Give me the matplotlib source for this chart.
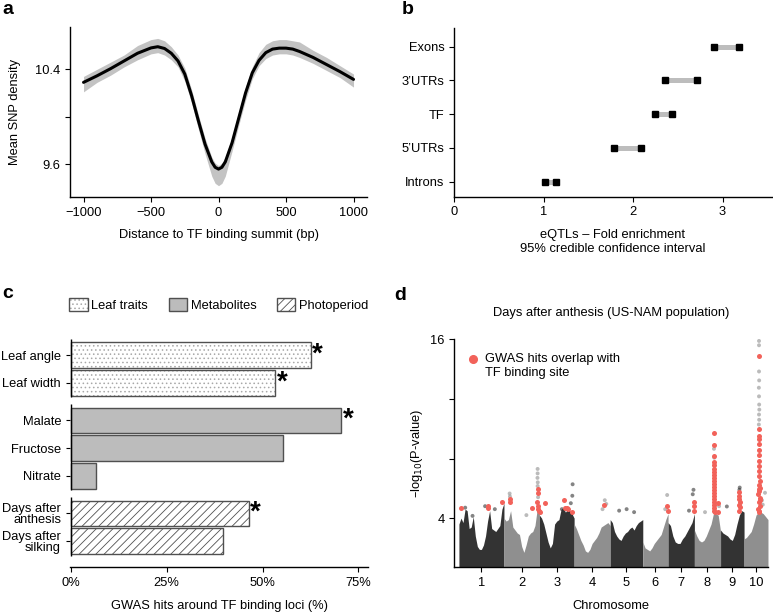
import numpy as np
import matplotlib.pyplot as plt
from matplotlib.patches import Patch

plt.rcParams['font.family'] = ['Liberation Sans', 'DejaVu Sans']
plt.rcParams['font.size'] = 9.3
plt.rcParams['hatch.linewidth'] = 0.6
plt.rcParams['axes.linewidth'] = 1.0

# ---------------- panel a: SNP density around TF summits
dist_bp = [-1000, -900, -800, -700, -600, -500, -450, -400, -350, -300, -250, -200,
           -150, -100, -50, -25, 0, 25, 50, 100, 150, 200, 250, 300, 350, 400,
           450, 500, 550, 600, 700, 800, 900, 1000]
snp_smooth = [10.29, 10.345, 10.405, 10.47, 10.535, 10.58, 10.59, 10.575, 10.535, 10.47,
              10.36, 10.18, 9.97, 9.77, 9.62, 9.575, 9.56, 9.575, 9.62, 9.78, 9.99,
              10.20, 10.37, 10.475, 10.54, 10.57, 10.578, 10.578, 10.57, 10.55, 10.50,
              10.44, 10.38, 10.315]
snp_raw_hi = [10.34, 10.40, 10.46, 10.52, 10.60, 10.65, 10.66, 10.64, 10.59, 10.52,
              10.41, 10.23, 10.02, 9.82, 9.66, 9.61, 9.59, 9.61, 9.66, 9.83, 10.04,
              10.25, 10.42, 10.54, 10.61, 10.64, 10.65, 10.65, 10.64, 10.63, 10.56,
              10.50, 10.43, 10.36]
snp_raw_lo = [10.21, 10.29, 10.35, 10.42, 10.48, 10.53, 10.54, 10.52, 10.48, 10.42,
              10.30, 10.12, 9.90, 9.69, 9.50, 9.44, 9.42, 9.44, 9.50, 9.71, 9.93,
              10.14, 10.32, 10.43, 10.49, 10.52, 10.53, 10.53, 10.52, 10.50, 10.45,
              10.39, 10.33, 10.25]

# ---------------- panel b: eQTL enrichment intervals
region_names = ['Introns', '5\u2019UTRs', 'TF', '3\u2019UTRs', 'Exons']
ci_low = [1.01, 1.79, 2.25, 2.36, 2.90]
ci_high = [1.14, 2.09, 2.44, 2.71, 3.19]

# ---------------- panel c: GWAS hits around TF loci
trait_names = ['Leaf angle', 'Leaf width', 'Malate', 'Fructose', 'Nitrate',
               'Days after\nanthesis', 'Days after\nsilking']
trait_group = ['Leaf traits', 'Leaf traits', 'Metabolites', 'Metabolites',
               'Metabolites', 'Photoperiod', 'Photoperiod']
gwas_pct = [62.6, 53.3, 70.5, 55.3, 6.7, 46.4, 39.8]
significant = [True, True, True, False, False, True, False]

# ---------------- panel d: Manhattan plot, days after anthesis
chrom_len_mb = [301, 237, 232, 241, 218, 169, 176, 175, 157, 160]
# top of the dense cloud of SNPs, evenly spaced along each chromosome
mass_top = [
    [3.6, 4.0, 3.7, 4.6, 4.5, 3.3, 3.4, 4.1, 2.8, 2.1, 1.9, 1.9, 2.2, 2.8, 3.8, 4.5,
     3.3, 3.2, 3.1, 3.3, 3.5, 4.6, 5.0],
    [4.0, 3.8, 3.9, 4.5, 3.4, 3.2, 3.0, 2.9, 2.1, 1.7, 2.2, 2.8, 3.0, 3.1, 3.5, 4.6, 4.8],
    [4.2, 4.0, 3.6, 3.0, 2.4, 2.0, 2.3, 3.6, 3.8, 3.9, 4.6, 4.7, 4.4, 4.6, 4.5, 4.3, 4.0],
    [3.6, 3.3, 2.9, 2.5, 2.2, 1.8, 1.7, 1.9, 2.3, 2.5, 2.7, 3.0, 3.4, 3.5, 3.6, 3.7, 3.5],
    [3.9, 3.7, 3.1, 2.8, 2.6, 2.5, 2.8, 3.0, 3.1, 3.3, 3.4, 3.2, 3.5, 3.7, 3.8, 3.9],
    [2.4, 2.0, 1.9, 1.8, 2.0, 2.3, 2.5, 2.7, 2.9, 3.4, 3.9, 4.3],
    [3.7, 3.5, 2.8, 2.4, 2.3, 2.3, 2.6, 2.8, 3.1, 3.4, 3.7, 4.3],
    [3.2, 2.8, 2.5, 2.4, 2.5, 2.8, 3.2, 3.6, 4.3, 4.3, 4.2, 3.1],
    [3.2, 3.0, 2.9, 2.8, 2.6, 2.5, 2.9, 3.6, 4.2, 4.5, 4.4],
    [2.6, 2.7, 2.9, 3.1, 3.6, 4.2, 4.4, 4.4, 4.3, 4.1, 3.9],
]
# (chromosome, position Mb, -log10 P) of SNPs standing out of the cloud
other_snps = [
    (1, 42, 4.7), (1, 91, 4.15), (1, 175, 4.8), (1, 240, 4.6),
    (2, 38, 5.65), (2, 40, 5.45), (2, 150, 4.2), (2, 225, 7.3), (2, 225, 7.0),
    (2, 224, 6.7), (2, 226, 6.4), (2, 225, 6.15), (2, 228, 5.4),
    (3, 222, 6.27), (3, 220, 5.5), (3, 210, 5.0), (3, 150, 4.6),
    (4, 205, 5.2), (4, 215, 4.95), (4, 190, 4.6),
    (5, 60, 4.5), (5, 110, 4.6), (5, 160, 4.4),
    (6, 163, 5.55), (6, 150, 4.6),
    (7, 170, 5.9), (7, 165, 5.6), (7, 140, 4.5),
    (8, 71, 4.4), (8, 131, 8.65), (8, 133, 8.05), (8, 165, 4.8),
    (9, 42, 4.78), (9, 128, 6.05), (9, 126, 5.9),
    (10, 100, 15.89), (10, 100, 15.6), (10, 100, 13.84), (10, 101, 13.24),
    (10, 99, 12.75), (10, 100, 12.17), (10, 101, 11.62), (10, 102, 11.28),
    (10, 100, 10.95), (10, 101, 10.6), (10, 99, 10.28), (10, 140, 5.7),
    (10, 120, 5.2), (10, 125, 4.9),
]
# GWAS hits overlapping a TF binding site
tf_hits = [
    (1, 13, 4.71), (1, 192, 4.82), (1, 192, 4.65), (1, 285, 5.05),
    (2, 38, 5.31), (2, 42, 5.05), (2, 188, 4.65), (2, 225, 5.94), (2, 225, 5.67),
    (2, 221, 5.05), (2, 227, 4.78), (2, 236, 4.49), (2, 230, 4.6),
    (3, 37, 5.0), (3, 6, 4.42), (3, 166, 5.2), (3, 172, 4.65), (3, 183, 4.71),
    (3, 194, 4.62), (3, 217, 4.42),
    (4, 199, 4.89),
    (6, 161, 4.78), (6, 168, 4.49),
    (7, 172, 5.09), (7, 172, 4.82), (7, 173, 4.49),
    (8, 131, 9.68), (8, 130, 8.88), (8, 132, 8.2), (8, 131, 7.75), (8, 133, 7.55),
    (8, 130, 7.3), (8, 132, 7.1), (8, 129, 6.9), (8, 133, 6.7), (8, 131, 6.5),
    (8, 128, 6.3), (8, 134, 6.1), (8, 130, 5.9), (8, 132, 5.7), (8, 129, 5.5),
    (8, 134, 5.3), (8, 131, 5.1), (8, 128, 4.9), (8, 133, 4.7), (8, 130, 4.5),
    (8, 135, 4.4), (8, 160, 5.0), (8, 160, 4.4),
    (9, 124, 5.74), (9, 126, 5.5), (9, 123, 5.28), (9, 127, 5.06), (9, 124, 4.88),
    (9, 128, 4.72), (9, 125, 4.5),
    (10, 100, 14.89), (10, 101, 9.99), (10, 99, 9.54), (10, 100, 9.28),
    (10, 102, 8.94), (10, 98, 8.56), (10, 101, 8.21), (10, 99, 7.83),
    (10, 103, 7.5), (10, 97, 7.16), (10, 101, 6.83), (10, 104, 6.5),
    (10, 98, 6.2), (10, 102, 5.94), (10, 96, 5.6), (10, 104, 5.38),
    (10, 99, 5.09), (10, 106, 4.82), (10, 95, 4.6), (10, 102, 4.38),
    (10, 107, 5.2), (10, 97, 5.8), (10, 105, 6.0), (10, 100, 4.5),
]

dark, light, red = '#333333', '#8f8f8f', '#f2625a'
bar_edge = '#505050'

fig = plt.figure(figsize=(7.73, 6.15), dpi=100)

# ================= a
ax = fig.add_axes([0.0906, 0.6797, 0.3842, 0.2764])
ax.fill_between(dist_bp, snp_raw_lo, snp_raw_hi, color='#c3c3c3', lw=0)
ax.plot(dist_bp, snp_smooth, color='black', lw=2.2, solid_capstyle='round')
ax.set_xlim(-1100, 1100)
ax.set_ylim(9.325, 10.756)
ax.set_xticks([-1000, -500, 0, 500, 1000])
ax.set_yticks([9.6, 10.0, 10.4])
ax.set_yticklabels(['9.6', '', '10.4'])
ax.set_xlabel('Distance to TF binding summit (bp)', labelpad=7.5)
ax.set_ylabel('Mean SNP density', labelpad=10)
for s in ['top', 'right']:
    ax.spines[s].set_visible(False)

# ================= b
ax = fig.add_axes([0.5877, 0.6802, 0.4106, 0.2738])
ypos = np.arange(len(region_names))
ax.hlines(ypos, ci_low, ci_high, color='#bdbdbd', lw=3.6)
ax.plot(ci_low, ypos, 's', color='black', ms=4.8)
ax.plot(ci_high, ypos, 's', color='black', ms=4.8)
ax.set_xlim(0, 3.55)
ax.set_ylim(-0.45, 4.55)
ax.set_yticks(ypos)
ax.set_yticklabels(region_names)
ax.set_xticks([0, 1, 2, 3])
ax.set_xlabel('eQTLs \u2013 Fold enrichment\n95% credible confidence interval', labelpad=7.5)
for s in ['top', 'right']:
    ax.spines[s].set_visible(False)

# ================= c
ax = fig.add_axes([0.0906, 0.0776, 0.3859, 0.3696])
ycen = []
y = 0.0
for i, g in enumerate(trait_group):
    if i > 0:
        y += 1.0 + (0.33 if g != trait_group[i - 1] else 0.0)
    ycen.append(y)
for yc, v, g, sig in zip(ycen, gwas_pct, trait_group, significant):
    if g == 'Leaf traits':
        ax.barh(yc, v, height=0.9, color='white', edgecolor='#a8a8a8', hatch='....', lw=0)
        ax.barh(yc, v, height=0.9, color='none', edgecolor=bar_edge, lw=1.0)
    elif g == 'Photoperiod':
        ax.barh(yc, v, height=0.9, color='white', edgecolor=bar_edge, hatch='////', lw=1.0)
    else:
        ax.barh(yc, v, height=0.9, color='#bcbcbc', edgecolor=bar_edge, lw=1.0)
    if sig:
        ax.text(v + 0.4, yc, '*', fontsize=20, fontweight='bold', ha='left', va='center')
ax.set_ylim(ycen[-1] + 0.94, ycen[0] - 0.54)
ax.set_xlim(-0.2, 77.6)
ax.set_yticks(ycen)
ax.set_yticklabels(trait_names)
for lab in ax.get_yticklabels():
    lab.set_linespacing(0.95)
ax.tick_params(axis='y', length=3)
ax.set_xticks([0, 25, 50, 75])
ax.set_xticklabels(['0%', '25%', '50%', '75%'])
ax.set_xlabel('GWAS hits around TF binding loci (%)', labelpad=8)
for s in ['top', 'right', 'left']:
    ax.spines[s].set_visible(False)
groups = list(dict.fromkeys(trait_group))
for g in groups:
    ys = [yc for yc, gg in zip(ycen, trait_group) if gg == g]
    ax.plot([0, 0], [ys[0] - 0.58, ys[-1] + 0.52], color='black', lw=1.0,
            clip_on=False, solid_capstyle='butt')
handles = [
    (Patch(facecolor='white', edgecolor='#a8a8a8', hatch='....', lw=0),
     Patch(facecolor='none', edgecolor=bar_edge, lw=1.0)),
    Patch(facecolor='#bcbcbc', edgecolor=bar_edge, lw=1.0),
    Patch(facecolor='white', edgecolor=bar_edge, hatch='////', lw=1.0),
]
ax.legend(handles, groups, loc='center left', bbox_to_anchor=(-0.002, 1.154),
          ncol=3, frameon=False, handlelength=1.4, handleheight=1.15,
          handletextpad=0.3, columnspacing=1.6, borderaxespad=0, borderpad=0)

# ================= d
ax = fig.add_axes([0.5877, 0.0776, 0.4062, 0.3707])
starts = np.concatenate([[0], np.cumsum(chrom_len_mb)[:-1]])
chrom_col = [dark if i % 2 == 0 else light for i in range(len(chrom_len_mb))]
for i, (L, tops) in enumerate(zip(chrom_len_mb, mass_top)):
    xs = starts[i] + np.linspace(0, L, len(tops))
    ax.fill_between(xs, 0, tops, color=chrom_col[i], lw=0)
ox = [starts[c - 1] + p for c, p, v in other_snps]
oy = [v for c, p, v in other_snps]
oc = [chrom_col[c - 1] for c, p, v in other_snps]
ax.scatter(ox, oy, s=8, c=oc, alpha=0.6, lw=0)
hx = [starts[c - 1] + p for c, p, v in tf_hits]
hy = [v for c, p, v in tf_hits]
ax.scatter(hx, hy, s=13, color=red, lw=0, zorder=3)
ax.set_xlim(-31, sum(chrom_len_mb) + 2)
ax.set_ylim(0.7, 16)
ax.set_yticks([4, 8, 12, 16])
ax.set_yticklabels(['4', '', '', '16'])
ax.set_xticks(starts + np.array(chrom_len_mb) / 2)
ax.set_xticklabels([str(i + 1) for i in range(len(chrom_len_mb))])
ax.set_xlabel('Chromosome', labelpad=8)
ax.set_ylabel('\u2013log$_{10}$(P-value)')
ax.set_title('Days after anthesis (US-NAM population)', fontsize=9.3, pad=17)
for s in ['top', 'right']:
    ax.spines[s].set_visible(False)
ax.plot([0.06], [0.913], 'o', ms=5.5, color=red, transform=ax.transAxes, clip_on=False)
ax.text(0.098, 0.883, 'GWAS hits overlap with\nTF binding site', transform=ax.transAxes,
        va='center', ha='left', linespacing=1.15)

# panel letters
for lbl, x, y in [('a', 0.003, 0.985), ('b', 0.520, 0.985), ('c', 0.003, 0.522), ('d', 0.510, 0.520)]:
    fig.text(x, y, lbl, fontsize=14, fontweight='bold', va='center', ha='left')

fig.savefig('out.png', dpi=100)
